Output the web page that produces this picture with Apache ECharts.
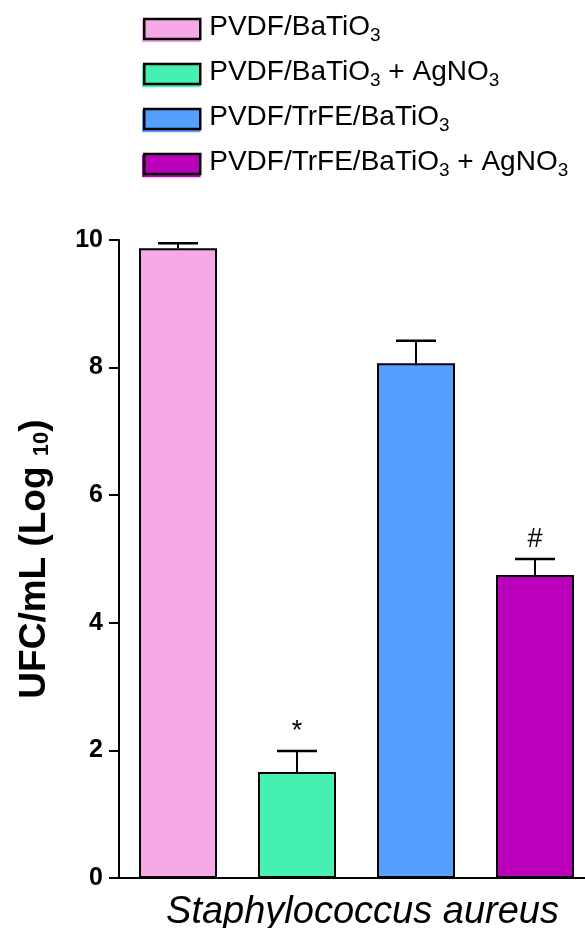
<!DOCTYPE html>
<html>
<head>
<meta charset="utf-8">
<script src="https://cdn.jsdelivr.net/npm/echarts@6/dist/echarts.min.js"></script>
<style>
html,body{margin:0;padding:0;background:#fff;}
#chart{width:585px;height:928px;}
</style>
</head>
<body>
<div id="chart"></div>
<script>
const category = ['Staphylococcus aureus'];
const seriesNames = ['PVDF/BaTiO3', 'PVDF/BaTiO3 + AgNO3', 'PVDF/TrFE/BaTiO3', 'PVDF/TrFE/BaTiO3 + AgNO3'];
const legendRich = [
  '{t|PVDF/BaTiO}{s|3}',
  '{t|PVDF/BaTiO}{s|3}{t| + AgNO}{s|3}',
  '{t|PVDF/TrFE/BaTiO}{s|3}',
  '{t|PVDF/TrFE/BaTiO}{s|3}{t| + AgNO}{s|3}'
];
const means = [9.87, 1.66, 8.07, 4.75];
const errors = [0.08, 0.33, 0.35, 0.25];
const marks = ['', '*', '', '#'];
const colors = ['#F5A9E6', '#45F0B0', '#55A0FF', '#BB00BB'];
const yTicks = [0, 2, 4, 6, 8, 10];

const BAR_W = 78, BAR_GAP = 41;

const chart = echarts.init(document.getElementById('chart'));

const barSeries = seriesNames.map((name, i) => ({
  name: name,
  type: 'bar',
  data: [means[i]],
  barWidth: BAR_W,
  barGap: (BAR_GAP / BAR_W * 100).toFixed(2) + '%',
  itemStyle: { color: colors[i], borderColor: '#000', borderWidth: 2 },
  emphasis: { disabled: true },
  z: 2
}));

const errSeries = {
  type: 'custom',
  name: 'err',
  z: 5,
  data: means.map((m, i) => [0, m, errors[i], i]),
  renderItem: function (params, api) {
    const idx = api.value(3);
    const m = api.value(1);
    const e = api.value(2);
    const base = api.coord([0, m]);
    const top = api.coord([0, m + e]);
    const x = base[0] + (idx - 1.5) * (BAR_W + BAR_GAP);
    const capHalf = 20;
    const children = [
      { type: 'line', shape: { x1: x, y1: base[1], x2: x, y2: top[1] }, style: { stroke: '#000', lineWidth: 2 } },
      { type: 'line', shape: { x1: x - capHalf, y1: top[1], x2: x + capHalf, y2: top[1] }, style: { stroke: '#000', lineWidth: 2.5 } }
    ];
    const mk = marks[idx];
    if (mk) {
      children.push({
        type: 'text',
        style: { text: mk, x: x, y: top[1] - 6, align: 'center', verticalAlign: 'bottom', fontSize: 27, fontFamily: 'Liberation Sans, Arial', fill: '#000' }
      });
    }
    return { type: 'group', children: children };
  }
};

chart.setOption({
  animation: false,
  backgroundColor: '#fff',
  legend: {
    orient: 'vertical',
    left: 138,
    top: 8,
    itemWidth: 56,
    itemHeight: 20,
    itemGap: 13,
    selectedMode: false,
    data: seriesNames.map((n, i) => ({
      name: n,
      icon: 'rect',
      itemStyle: { color: colors[i], borderColor: '#000', borderWidth: 2.5, shadowColor: colors[i], shadowOffsetX: -1, shadowOffsetY: 2, shadowBlur: 0 }
    })),
    formatter: function (name) { return legendRich[seriesNames.indexOf(name)]; },
    textStyle: {
      padding: [0, 0, 0, 4],
      rich: {
        t: { fontSize: 28, fontFamily: 'Liberation Sans, Arial', color: '#000', lineHeight: 32, verticalAlign: 'top' },
        s: { fontSize: 19, fontFamily: 'Liberation Sans, Arial', color: '#000', lineHeight: 16, verticalAlign: 'bottom' }
      }
    }
  },
  grid: { left: 119, right: -9, top: 240, bottom: 50, containLabel: false, outerBoundsMode: 'none' },
  xAxis: {
    type: 'category',
    data: category,
    axisLine: { lineStyle: { color: '#000', width: 2 } },
    axisTick: { show: false },
    axisLabel: {
      color: '#000',
      fontSize: 38,
      fontStyle: 'italic',
      fontFamily: 'Liberation Sans, Arial',
      margin: 15,
      padding: [0, 0, 0, 12]
    }
  },
  yAxis: {
    type: 'value',
    min: yTicks[0],
    max: yTicks[yTicks.length - 1],
    interval: 2,
    splitLine: { show: false },
    axisLine: { show: true, lineStyle: { color: '#000', width: 2 } },
    axisTick: { show: true, length: 10, lineStyle: { color: '#000', width: 2 } },
    axisLabel: { color: '#000', fontSize: 25, fontWeight: 'bold', fontFamily: 'Liberation Sans, Arial', margin: 16 },
    name: '{b|UFC/mL (Log }{s|10}{b|)}',
    nameLocation: 'middle',
    nameRotate: 90,
    nameGap: 66,
    nameTextStyle: {
      rich: {
        b: { fontSize: 37, fontWeight: 'bold', fontFamily: 'Liberation Sans, Arial', color: '#000', lineHeight: 42, verticalAlign: 'bottom' },
        s: { fontSize: 22, fontWeight: 'bold', fontFamily: 'Liberation Sans, Arial', color: '#000', lineHeight: 24, verticalAlign: 'bottom' }
      }
    }
  },
  series: barSeries.concat([errSeries])
});
</script>
</body>
</html>
